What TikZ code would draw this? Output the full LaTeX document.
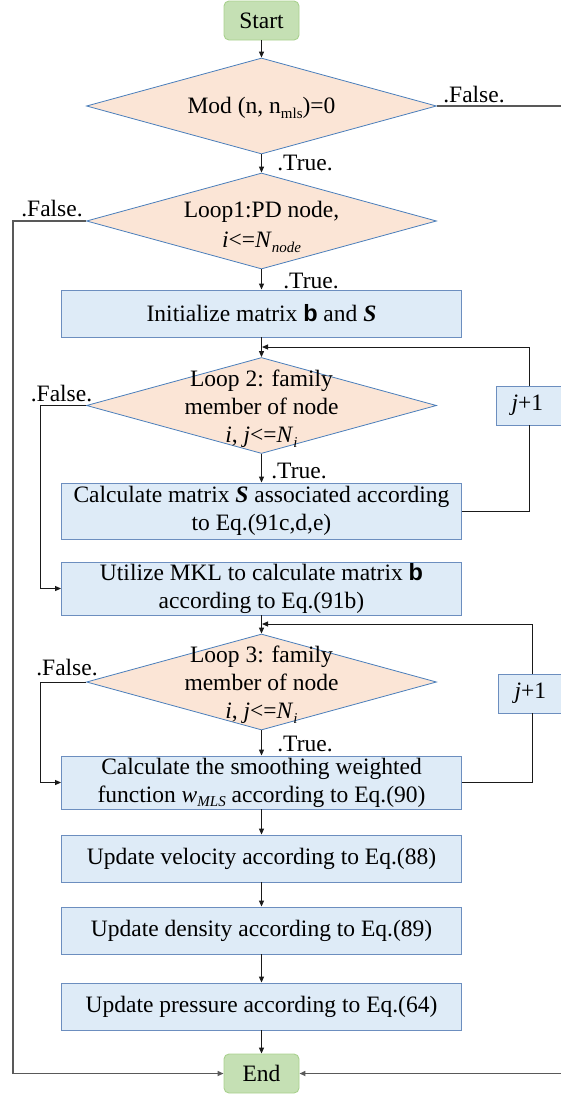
\documentclass[tikz,border=0pt]{standalone}
\usepackage{fontspec}
\setmainfont{Liberation Serif}
\newfontfamily\arialfont{Liberation Sans}
\usetikzlibrary{shapes.geometric,arrows.meta}
\definecolor{boxfill}{HTML}{DEEBF7}
\definecolor{boxline}{HTML}{6C8EBF}
\definecolor{dfill}{HTML}{FBE5D6}
\definecolor{dline}{HTML}{4A7EBB}
\definecolor{tfill}{HTML}{C5E0B4}
\definecolor{tline}{HTML}{A9D18E}
\definecolor{linec}{HTML}{1A1A1A}
\definecolor{greyc}{HTML}{595959}
\newcommand\sbs[1]{\raisebox{-4.5pt}{\fontsize{15}{15}\selectfont #1}}
\newcommand\bsans{{\arialfont\bfseries b}}
\tikzset{
  txt/.style={font=\fontsize{23.5}{28}\selectfont, inner sep=0pt, align=center},
  procbox/.style={txt, draw=boxline, fill=boxfill, line width=0.9pt, minimum width=400pt},
  termbox/.style={txt, draw=tline, fill=tfill, line width=0.9pt, rounded corners=5pt, minimum width=75pt, minimum height=39pt},
  decis/.style={diamond, draw=dline, fill=dfill, line width=0.8pt, inner sep=0pt, minimum width=350pt, minimum height=96pt},
  lbl/.style={txt},
  conn/.style={draw=linec, line width=1pt},
  arr/.style={conn, -{Triangle[length=6pt,width=5pt]}},
  farr/.style={arr, draw=greyc, line width=1.5pt},
}
\begin{document}
\begin{tikzpicture}[x=1pt,y=-1pt]
\useasboundingbox (0,0) rectangle (561,1098);
% nodes
\node[termbox] (start) at (261.5,20.5) {Start};
\node[decis] (d1) at (261.5,106) {};
\node[txt] (d1t) at (261.5,108) {Mod (n, n\sbs{mls})=0};
\node[decis] (d2) at (261.5,221) {};
\node[txt] (d2t) at (261.5,227) {Loop1:PD node,\\[2pt] \textit{i}<=\textit{N}\sbs{\textit{node}}};
\node[procbox, minimum height=47pt] (init) at (261.5,313.5) {Initialize matrix \bsans{} and \textbf{\textit{S}}};
\node[decis] (d3) at (261.5,405.5) {};
\node[txt] (d3t) at (261.5,409) {Loop 2: family\\member of node\\\textit{i}, \textit{j}<=\textit{N}\sbs{\textit{i}}};
\node[procbox, minimum height=56pt] (calcS) at (261.5,511) {Calculate matrix \textbf{\textit{S}} associated according\\to Eq.(91c,d,e)};
\node[procbox, minimum height=53pt] (util) at (261.5,588.5) {Utilize MKL to calculate matrix \bsans\\according to Eq.(91b)};
\node[decis] (d4) at (261.5,682) {};
\node[txt] (d4t) at (261.5,685) {Loop 3: family\\member of node\\\textit{i}, \textit{j}<=\textit{N}\sbs{\textit{i}}};
\node[procbox, minimum height=53pt] (calcw) at (261.5,782.5) {Calculate the smoothing weighted\\function \textit{w}\sbs{\textit{MLS}} according to Eq.(90)};
\node[procbox, minimum height=47pt] (vel) at (261.5,858.5) {Update velocity according to Eq.(88)};
\node[procbox, minimum height=47pt] (den) at (261.5,930.5) {Update density according to Eq.(89)};
\node[procbox, minimum height=47pt] (pres) at (261.5,1006.5) {Update pressure according to Eq.(64)};
\node[termbox] (end) at (261.5,1073.5) {End};
\node[procbox, minimum width=80pt, minimum height=39pt, anchor=west] (j1) at (495.5,405.5) {\makebox[63pt]{\textit{j}+1}\hspace{17pt}};
\node[procbox, minimum width=80pt, minimum height=39pt, anchor=west] (j2) at (498,693.5) {\makebox[64pt]{\textit{j}+1}\hspace{16pt}};
% labels
\node[lbl] (f1) at (474,95) {.False.};
\node[lbl] (t1) at (305,163) {.True.};
\node[lbl] (f2) at (52,209) {.False.};
\node[lbl] (t2) at (311,281) {.True.};
\node[lbl] (f3) at (61.5,394) {.False.};
\node[lbl] (t3) at (299,471) {.True.};
\node[lbl] (f4) at (67,668) {.False.};
\node[lbl] (t4) at (305,744) {.True.};
% coordinates
\coordinate (fb1) at (262,347);
\coordinate (fb2) at (262,624);
\coordinate (j1s) at (529,425);
\coordinate (j1n) at (529,386);
\coordinate (j2s) at (532,713);
\coordinate (j2n) at (532,674);
\coordinate (rr) at (563,106);
\coordinate (ll) at (13,221);
\coordinate (l3) at (40.5,405.5);
\coordinate (l4) at (40.5,682);
% main flow
\draw[arr] (start) -- (d1);
\draw[arr] (d1) -- (d2);
\draw[arr] (d2) -- (init);
\draw[arr] (init) -- (d3);
\draw[arr] (d3) -- (calcS);
\draw[arr] (util) -- (d4);
\draw[arr] (d4) -- (calcw);
\draw[arr] (calcw) -- (vel);
\draw[arr] (vel) -- (den);
\draw[arr] (den) -- (pres);
\draw[arr] (pres) -- (end);
% loops
\draw[conn] (calcS.east) -| (j1s);
\draw[arr] (j1n) |- (fb1);
\draw[conn] (calcw.east) -| (j2s);
\draw[arr] (j2n) |- (fb2);
% false branches
\draw[farr] (d1.east) -- (rr) |- (end.east);
\draw[farr] (d2.west) -- (ll) |- (end.west);
\draw[arr] (d3.west) -- (l3) |- (util.west);
\draw[arr] (d4.west) -- (l4) |- (calcw.west);
\end{tikzpicture}
\end{document}
